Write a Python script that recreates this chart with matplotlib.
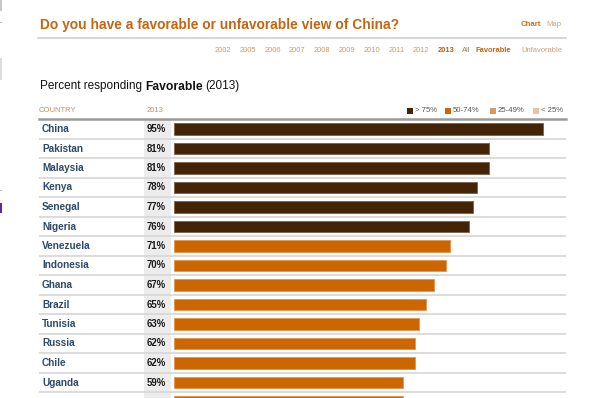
import matplotlib
matplotlib.use("Agg")
import matplotlib.pyplot as plt
from matplotlib.patches import Rectangle

plt.rcParams['font.family'] = ['Liberation Sans', 'DejaVu Sans']

# ---- data ----
countries = ["China", "Pakistan", "Malaysia", "Kenya", "Senegal", "Nigeria",
             "Venezuela", "Indonesia", "Ghana", "Brazil", "Tunisia", "Russia",
             "Chile", "Uganda", "Bolivia"]
favorable = [95, 81, 81, 78, 77, 76, 71, 70, 67, 65, 63, 62, 62, 59, 59]
year_links = ["2002", "2005", "2006", "2007", "2008", "2009", "2010", "2011",
              "2012", "2013", "All", "Favorable", "Unfavorable"]
legend_labels = ["> 75%", "50-74%", "25-49%", "< 25%"]
legend_colors = ["#432406", "#cc6600", "#d49a62", "#e6c4a1"]

W, H = 600, 398
fig = plt.figure(figsize=(W / 100, H / 100), dpi=100)
fig.patch.set_facecolor("white")


def fx(px):
    return px / W


def fy(py):
    return 1 - py / H


def color_for(v):
    if v > 75:
        return legend_colors[0]
    if v >= 50:
        return legend_colors[1]
    if v >= 25:
        return legend_colors[2]
    return legend_colors[3]


def edge_for(v):
    return "#7d6048" if v > 75 else "#e6944c"


# ---- header texts ----
fig.text(fx(40), fy(24.5), "Do you have a favorable or unfavorable view of China?",
         fontsize=9.9, fontweight="bold", color="#c8630f", va="center", ha="left")
fig.text(fx(541), fy(25), "Chart", fontsize=5.6, fontweight="bold", color="#c8700f",
         va="center", ha="right")
fig.text(fx(546), fy(25), "Map", fontsize=5.6, color="#d4a070", va="center", ha="left")
fig.add_artist(plt.Line2D([fx(38), fx(566)], [fy(38), fy(38)], color="#cfcfcf", lw=1.2))

link_x = [215, 240, 265, 289, 314, 339, 364, 389, 413, 438, 462, 476, 521]
for lab, x in zip(year_links, link_x):
    if lab == "2013":
        kw = dict(fontweight="bold", color="#c0600f")
    elif lab == "Favorable":
        kw = dict(fontweight="bold", color="#c8630f")
    elif lab == "All":
        kw = dict(color="#a08060")
    elif lab == "Unfavorable":
        kw = dict(color="#c8a07a")
    else:
        kw = dict(color="#d09a60")
    fig.text(fx(x), fy(51), lab, fontsize=5.4, va="center", ha="left", **kw)

# "Percent responding Favorable (2013)"
renderer = fig.canvas.get_renderer()
t1 = fig.text(fx(40), fy(86.5), "Percent responding ", fontsize=8.5, color="#111111",
              va="center", ha="left")
bb = t1.get_window_extent(renderer)
t2 = fig.text(bb.x1 / W, fy(86.5), "Favorable", fontsize=8.7, fontweight="bold",
              color="#111111", va="center", ha="left")
bb2 = t2.get_window_extent(renderer)
fig.text(bb2.x1 / W + 0.004, fy(86.5), "(2013)", fontsize=8.5, color="#111111",
         va="center", ha="left")

# column headers
fig.text(fx(39), fy(111), "COUNTRY", fontsize=5.5, color="#c09060", va="center", ha="left")
fig.text(fx(147), fy(111), "2013", fontsize=5.5, color="#c09060", va="center", ha="left")

# legend
sq_x = [407, 445, 490, 533]
for lab, col, x in zip(legend_labels, legend_colors, sq_x):
    fig.add_artist(Rectangle((fx(x), fy(114)), fx(6), 6 / H, facecolor=col,
                             edgecolor="none", transform=fig.transFigure))
    fig.text(fx(x + 8), fy(111), lab, fontsize=5.6, color="#555555",
             va="center", ha="left")

# ---- bar table axes ----
left_px, right_px = 39, 566
top_px, bot_px = 119.25, 398
scale = 3.884          # px per percent
zero_px = 174
pitch = 19.5
ax = fig.add_axes([fx(left_px), fy(bot_px), fx(right_px - left_px), (bot_px - top_px) / H])
ax.set_xlim((left_px - zero_px) / scale, (right_px - zero_px) / scale)
ymax = (bot_px - 129) / pitch
ax.set_ylim(ymax, -0.5)
ax.axis("off")

# gray column
ax.axvspan((144 - zero_px) / scale, (171 - zero_px) / scale, color="#ececec", lw=0, zorder=0)

rows = list(range(len(countries)))
for i in rows:
    ax.axhline(i + 0.5, color="#d9d9d9", lw=1.3, zorder=1)
ax.axhline(-0.5, color="#9a9a9a", lw=1.8, zorder=3, clip_on=False)

ax.barh(rows, favorable, height=0.59, left=0,
        color=[color_for(v) for v in favorable],
        edgecolor=[edge_for(v) for v in favorable], linewidth=0.6, zorder=2)

for i, (c, v) in enumerate(zip(countries, favorable)):
    if i > ymax:
        continue  # row lies below the visible area; only its bar top shows
    ax.text((42 - zero_px) / scale, i, c, fontsize=7.2, fontweight="bold",
            color="#2e4a6a", va="center", ha="left")
    ax.text((166 - zero_px) / scale, i, f"{v}%", fontsize=6.9, fontweight="bold",
            color="#1a1a1a", va="center", ha="right")

# left-edge browser artifacts
for y0, y1, col in [(0, 11, "#c8c8c8"), (22, 23, "#bdbdbd"), (58, 80, "#dddddd"),
                    (190, 191, "#bdbdbd"), (203, 213, "#5a2a9a")]:
    fig.add_artist(Rectangle((0, fy(y1)), fx(2), (y1 - y0) / H, facecolor=col,
                             edgecolor="none", transform=fig.transFigure))

fig.savefig("out.png", dpi=100, facecolor="white")
